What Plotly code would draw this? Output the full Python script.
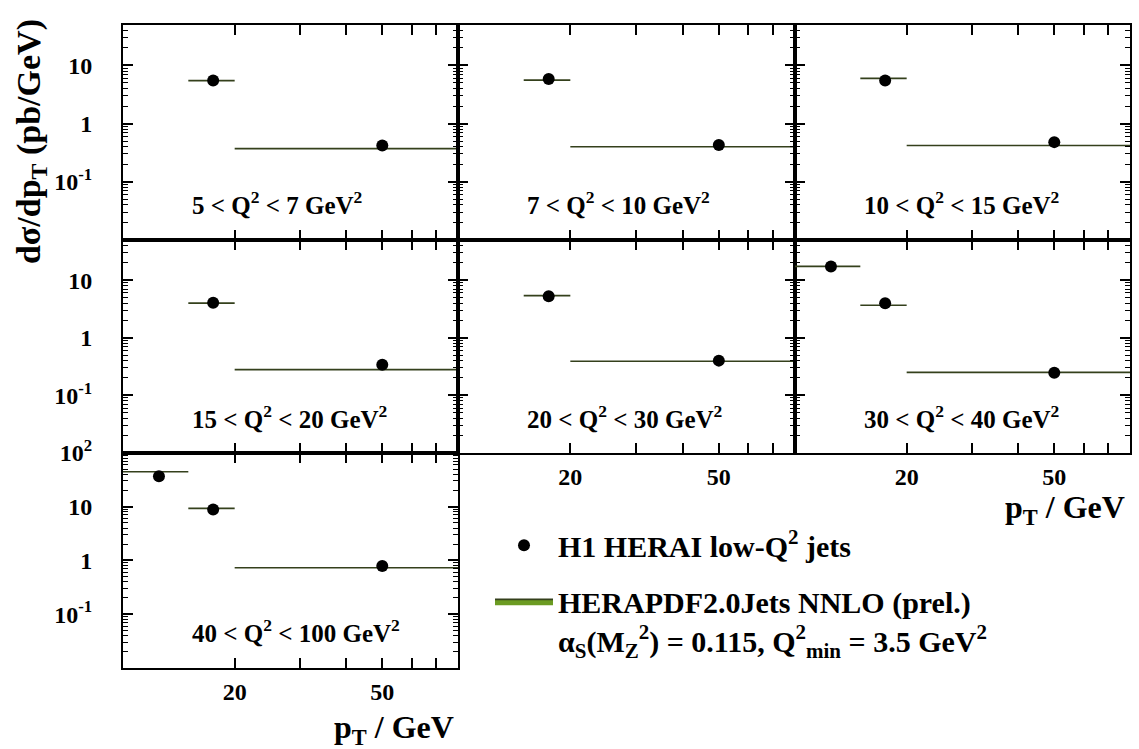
import plotly.graph_objects as go
from plotly.subplots import make_subplots

# ---- data -------------------------------------------------------------
q2_bins = [
    "5 < Q<sup>2</sup> < 7 GeV<sup>2</sup>",
    "7 < Q<sup>2</sup> < 10 GeV<sup>2</sup>",
    "10 < Q<sup>2</sup> < 15 GeV<sup>2</sup>",
    "15 < Q<sup>2</sup> < 20 GeV<sup>2</sup>",
    "20 < Q<sup>2</sup> < 30 GeV<sup>2</sup>",
    "30 < Q<sup>2</sup> < 40 GeV<sup>2</sup>",
    "40 < Q<sup>2</sup> < 100 GeV<sup>2</sup>",
]
# pT bin edges (GeV) per Q2 bin
pt_edges = [
    [15, 20, 80],
    [15, 20, 80],
    [15, 20, 80],
    [15, 20, 80],
    [15, 20, 80],
    [10, 15, 20, 80],
    [10, 15, 20, 80],
]
# pT at which the measured points are plotted
pt_points = [
    [17.5, 50],
    [17.5, 50],
    [17.5, 50],
    [17.5, 50],
    [17.5, 50],
    [12.5, 17.5, 50],
    [12.5, 17.5, 50],
]
# H1 measured dsigma/dpT (pb/GeV)
h1_xsec = [
    [5.5, 0.42],
    [5.85, 0.43],
    [5.5, 0.48],
    [4.05, 0.34],
    [5.25, 0.40],
    [17.2, 3.95, 0.247],
    [36.6, 8.8, 0.79],
]
# HERAPDF2.0Jets NNLO prediction (pb/GeV)
nnlo_xsec = [
    [5.5, 0.37],
    [5.6, 0.40],
    [6.0, 0.42],
    [4.0, 0.28],
    [5.4, 0.39],
    [17.4, 3.66, 0.25],
    [44.6, 9.3, 0.73],
]
x_tick_vals = [20, 30, 40, 50, 60, 70]
x_tick_text = ["20", "", "", "50", "", ""]
y_tick_vals = [0.1, 1, 10, 100]
y_tick_text = ["10<sup>-1</sup>", "1", "10", "10<sup>2</sup>"]

# ---- layout geometry (pixels) -----------------------------------------
W, H = 1139, 749
col_px = [(123, 458), (458, 795), (795, 1130)]
row_px = [(8, 228), (228, 446), (446, 666)]
cells = [(0, 0), (0, 1), (0, 2), (1, 0), (1, 1), (1, 2), (2, 0)]

FONT = "Liberation Serif"
BLACK = "black"
BAND_FILL = "#6b9b22"
BAND_EDGE = "#34401c"
TICK_FONT = dict(family=FONT, size=24, color=BLACK, weight="bold")

fig = make_subplots(
    rows=3, cols=3, horizontal_spacing=0, vertical_spacing=0,
    specs=[[{}, {}, {}], [{}, {}, {}], [{}, None, None]],
)

minor_y = [m * 10.0 ** e for e in range(-2, 3) for m in range(2, 10)]

for i, (r, c) in enumerate(cells):
    edges = pt_edges[i]
    # theory band: one closed (flat) box per pT bin
    bx, by = [], []
    for k in range(len(edges) - 1):
        lo, hi, v = edges[k], edges[k + 1], nnlo_xsec[i][k]
        bx += [lo, hi, hi, lo, lo, None]
        by += [v, v, v, v, v, None]
    fig.add_trace(go.Scatter(
        x=bx, y=by, mode="lines", fill="toself",
        fillcolor=BAND_FILL, line=dict(color=BAND_EDGE, width=1.7),
        name="HERAPDF2.0Jets NNLO (prel.)<br>"
             "α<sub>S</sub>(M<sub>Z</sub><sup>2</sup>) = 0.115, "
             "Q<sup>2</sup><sub>min</sub> = 3.5 GeV<sup>2</sup>",
        legendgroup="nnlo", legendrank=2, showlegend=(i == 0),
        hoverinfo="skip",
    ), row=r + 1, col=c + 1)
    fig.add_trace(go.Scatter(
        x=pt_points[i], y=h1_xsec[i], mode="markers",
        marker=dict(color=BLACK, size=12, symbol="circle"),
        name="H1 HERAI low-Q<sup>2</sup> jets",
        legendgroup="h1", legendrank=1, showlegend=(i == 0),
    ), row=r + 1, col=c + 1)

    x0, x1 = col_px[c]
    y0, y1 = row_px[r]
    xdom = [x0 / W, x1 / W]
    ydom = [1 - y1 / H, 1 - y0 / H]
    yr = [-2, 2] if r == 2 else [-2, 1.7]
    bottom_row = (r == 2) or (r == 1 and c > 0)

    fig.update_xaxes(
        type="log", range=[1, 1.90309], domain=xdom,
        showline=True, linecolor=BLACK, linewidth=2, mirror="ticks",
        ticks="inside", ticklen=10, tickwidth=1.6, tickcolor=BLACK,
        tickvals=x_tick_vals, ticktext=x_tick_text,
        showticklabels=bottom_row, ticklabelstandoff=1,
        tickfont=TICK_FONT, showgrid=False, zeroline=False,
        row=r + 1, col=c + 1,
    )
    fig.update_yaxes(
        type="log", range=yr, domain=ydom,
        showline=True, linecolor=BLACK, linewidth=2, mirror="ticks",
        ticks="inside", ticklen=10, tickwidth=1.6, tickcolor=BLACK,
        tickvals=y_tick_vals, ticktext=y_tick_text,
        minor=dict(ticks="inside", ticklen=5, tickwidth=1.2,
                   tickcolor=BLACK, tickvals=minor_y, showgrid=False),
        showticklabels=(c == 0), ticklabelstandoff=24,
        tickfont=TICK_FONT, showgrid=False, zeroline=False,
        row=r + 1, col=c + 1,
    )
    # Q2 range label inside each panel
    xa = fig.get_subplot(r + 1, c + 1).xaxis.plotly_name.replace("axis", "")
    ya = fig.get_subplot(r + 1, c + 1).yaxis.plotly_name.replace("axis", "")
    fig.add_annotation(
        text=q2_bins[i], xref=f"{xa} domain", yref=f"{ya} domain",
        x=0.2, y=0.17, xanchor="left", yanchor="middle", showarrow=False,
        font=dict(family=FONT, size=25, color=BLACK, weight="bold"),
    )

# axis titles
fig.add_annotation(
    text="dσ/dp<sub>T</sub> (pb/GeV)", xref="paper", yref="paper",
    x=31 / W, y=1 - 128 / H, textangle=-90, showarrow=False,
    xanchor="center", yanchor="middle",
    font=dict(family=FONT, size=34, color=BLACK, weight="bold"),
)
for xr, yc in [(456, 729), (1127, 504)]:
    fig.add_annotation(
        text="p<sub>T</sub> / GeV", xref="paper", yref="paper",
        x=xr / W, y=1 - yc / H, showarrow=False,
        xanchor="right", yanchor="middle",
        font=dict(family=FONT, size=32, color=BLACK, weight="bold"),
    )

fig.update_layout(
    width=W, height=H, margin=dict(l=0, r=0, t=0, b=0),
    paper_bgcolor="white", plot_bgcolor="white",
    font=dict(family=FONT, color=BLACK, weight="bold"),
    legend=dict(
        x=490 / W, y=1 - 514 / H, xanchor="left", yanchor="top",
        font=dict(family=FONT, size=30, color=BLACK, weight="bold"),
        bgcolor="rgba(0,0,0,0)", valign="top", tracegroupgap=14,
        itemwidth=58,
    ),
    showlegend=True,
)

fig.write_html("out.html")
